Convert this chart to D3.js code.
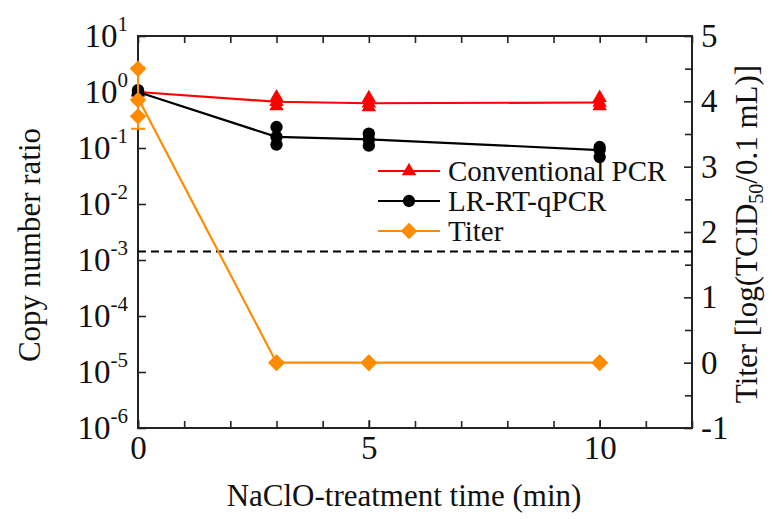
<!DOCTYPE html>
<html>
<head>
<meta charset="utf-8">
<script src="https://cdn.jsdelivr.net/npm/d3@7"></script>
<style>
  html, body { margin: 0; padding: 0; background: #fff; }
  svg { display: block; font-family: "Liberation Serif", "DejaVu Serif", serif; }
</style>
</head>
<body>
<svg id="chart" width="772" height="519"></svg>
<script>
// ---- data ----
const times = [0, 3, 5, 10];
const convMean = [1.0, 0.67, 0.63, 0.65];
const convReps = [[1.0, 1.0, 1.0], [0.8, 0.67, 0.56], [0.78, 0.63, 0.54], [0.79, 0.65, 0.56]];
const lrMean = [1.0, 0.158, 0.143, 0.092];
const lrReps = [[1.08, 1.0, 0.95], [0.237, 0.158, 0.115], [0.18, 0.143, 0.11], [0.104, 0.092, 0.069]];
const titerMean = [4.05, 0, 0, 0];
const titerReps = [[4.5, 4.02, 3.77], [0, 0, 0], [0, 0, 0], [0, 0, 0]];
const titerErr = [0.47, 0, 0, 0];
const detectionLimit = 1.7; // titer axis
const seriesNames = ["Conventional PCR", "LR-RT-qPCR", "Titer"];
const xMajorTicks = [0, 5, 10];
const xMinorTicks = [0,1,2,3,4,5,6,7,8,9,10,11,12];
const yLeftExps = [1, 0, -1, -2, -3, -4, -5, -6];
const yRightTicks = [-1, 0, 1, 2, 3, 4, 5];
const yRightMinor = [-0.5, 0.5, 1.5, 2.5, 3.5, 4.5];

// ---- layout ----
const svg = d3.select("#chart");
const L = 138, R = 692, T = 36, B = 428;
const x = d3.scaleLinear().domain([0, 12]).range([L, R]);
const yL = d3.scaleLog().domain([1e-6, 1e1]).range([B, T]);
const yR = d3.scaleLinear().domain([-1, 5]).range([B, T]);

const RED = "#ff0000", BLACK = "#000000", ORANGE = "#ff8c00";
const tickFont = 33;

function styleAxis(g) {
  g.selectAll("path.domain").remove();
  g.selectAll(".tick line").attr("stroke", "#222").attr("stroke-width", 1.6);
}

// bottom axis
const gB = svg.append("g").attr("transform", `translate(0,${B})`)
  .call(d3.axisBottom(x).tickValues(xMinorTicks).tickSize(-7).tickFormat(""));
styleAxis(gB);
const gB2 = svg.append("g").attr("transform", `translate(0,${B})`)
  .call(d3.axisBottom(x).tickValues(xMajorTicks).tickSize(-8).tickPadding(8).tickFormat(d3.format("d")));
styleAxis(gB2);
gB2.selectAll(".tick text").attr("font-size", tickFont).attr("fill", "#111")
  .attr("font-family", "Liberation Serif");

// top axis (mirror ticks)
const gT = svg.append("g").attr("transform", `translate(0,${T})`)
  .call(d3.axisTop(x).tickValues(xMinorTicks).tickSize(-7).tickFormat(""));
styleAxis(gT);

// left axis
const gL = svg.append("g").attr("transform", `translate(${L},0)`)
  .call(d3.axisLeft(yL).tickValues(yLeftExps.map(e => Math.pow(10, e))).tickSize(-8).tickPadding(10).tickFormat(""));
styleAxis(gL);
gL.selectAll(".tick text").each(function(d) {
  const t = d3.select(this);
  const e = Math.round(Math.log10(d));
  t.attr("font-size", tickFont).attr("fill", "#111").attr("font-family", "Liberation Serif")
   .attr("dy", "0.32em");
  t.append("tspan").text("10");
  t.append("tspan").attr("font-size", 21).attr("dy", "-0.75em").text(String(e));
});

// right axis
const gR = svg.append("g").attr("transform", `translate(${R},0)`)
  .call(d3.axisRight(yR).tickValues(yRightTicks).tickSize(-8).tickPadding(9).tickFormat(d3.format("d")));
styleAxis(gR);
gR.selectAll(".tick text").attr("font-size", tickFont).attr("fill", "#111")
  .attr("font-family", "Liberation Serif").text(d => d < 0 ? "-" + Math.abs(d) : d);
const gR2 = svg.append("g").attr("transform", `translate(${R},0)`)
  .call(d3.axisRight(yR).tickValues(yRightMinor).tickSize(-7).tickFormat(""));
styleAxis(gR2);

// frame
svg.append("rect").attr("x", L).attr("y", T).attr("width", R - L).attr("height", B - T)
  .attr("fill", "none").attr("stroke", "#222").attr("stroke-width", 2);

// detection limit
svg.append("line").attr("x1", L).attr("x2", R)
  .attr("y1", yR(detectionLimit)).attr("y2", yR(detectionLimit))
  .attr("stroke", "#000").attr("stroke-width", 2).attr("stroke-dasharray", "8,5");

// symbols
const triPath = d3.symbol().type(d3.symbolTriangle).size(90)();
const circPath = d3.symbol().type(d3.symbolCircle).size(120)();
const diaPath = d3.symbol().type(d3.symbolSquare).size(135)();

function drawSeries(means, reps, yScale, color, path, rot) {
  const line = d3.line().x((d, i) => x(times[i])).y(d => yScale(d));
  svg.append("path").datum(means).attr("d", line)
    .attr("fill", "none").attr("stroke", color).attr("stroke-width", 2.2);
  const pts = [];
  reps.forEach((arr, i) => arr.forEach(v => pts.push([times[i], v])));
  svg.append("g").selectAll("path").data(pts).join("path")
    .attr("d", path)
    .attr("transform", d => `translate(${x(d[0])},${yScale(d[1])}) rotate(${rot})`)
    .attr("fill", color);
}

drawSeries(convMean, convReps, yL, RED, triPath, 0);
drawSeries(lrMean, lrReps, yL, BLACK, circPath, 0);

// titer error bars
times.forEach((t, i) => {
  if (titerErr[i] > 0) {
    const cx = x(t);
    svg.append("line").attr("x1", cx).attr("x2", cx)
      .attr("y1", yR(titerMean[i] + titerErr[i])).attr("y2", yR(titerMean[i] - titerErr[i]))
      .attr("stroke", ORANGE).attr("stroke-width", 2);
    [titerMean[i] + titerErr[i], titerMean[i] - titerErr[i]].forEach(v => {
      svg.append("line").attr("x1", cx - 7).attr("x2", cx + 7)
        .attr("y1", yR(v)).attr("y2", yR(v)).attr("stroke", ORANGE).attr("stroke-width", 2);
    });
  }
});
drawSeries(titerMean, titerReps, yR, ORANGE, diaPath, 45);

// legend
const legY = [171, 201, 231];
const legColors = [RED, BLACK, ORANGE];
const legPaths = [triPath, circPath, diaPath];
const legRot = [0, 0, 45];
seriesNames.forEach((name, i) => {
  const g = svg.append("g").attr("transform", `translate(0,${legY[i]})`);
  g.append("line").attr("x1", 378).attr("x2", 440).attr("y1", 0).attr("y2", 0)
    .attr("stroke", legColors[i]).attr("stroke-width", 2.2);
  g.append("path").attr("d", legPaths[i]).attr("transform", `translate(409,0) rotate(${legRot[i]})`)
    .attr("fill", legColors[i]);
  g.append("text").attr("x", 448).attr("y", 10).attr("font-size", 29).attr("fill", "#111").text(name);
});

// axis titles
svg.append("text").attr("x", 404).attr("y", 506).attr("text-anchor", "middle")
  .attr("font-size", 31).attr("fill", "#111").text("NaClO-treatment time (min)");
svg.append("text").attr("transform", `translate(40,${(T + B) / 2 + 13}) rotate(-90)`)
  .attr("text-anchor", "middle").attr("font-size", 31).attr("fill", "#111").text("Copy number ratio");
const rt = svg.append("text").attr("transform", `translate(757,${(T + B) / 2 + 2}) rotate(-90)`)
  .attr("text-anchor", "middle").attr("font-size", 31).attr("fill", "#111");
rt.append("tspan").text("Titer [log(TCID");
rt.append("tspan").attr("font-size", 20).attr("dy", 6).text("50");
rt.append("tspan").attr("dy", -6).text("/0.1 mL)]");
</script>
</body>
</html>
